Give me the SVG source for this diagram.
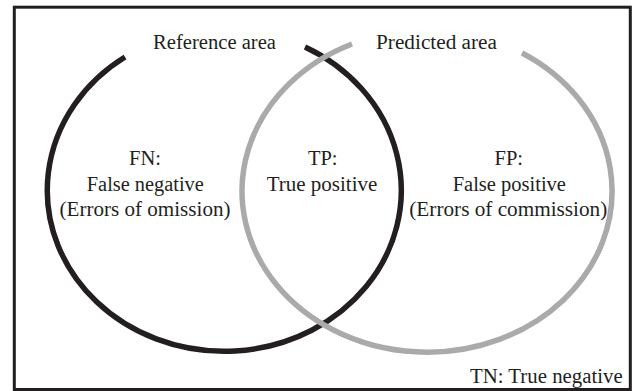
<svg xmlns="http://www.w3.org/2000/svg" width="633" height="391" viewBox="0 0 633 391">
<style>
.t{font-family:"Liberation Serif","Times New Roman",serif;font-size:20.5px;fill:#231f20;text-anchor:middle}
.ref{fill:none;stroke:#231f20;stroke-width:5.5}
.pred{fill:none;stroke:#aaaaaa;stroke-width:5.5}
</style>
<rect x="0" y="0" width="633" height="391" fill="#ffffff"/>
<g id="frame">
<rect x="14.3" y="7.2" width="616" height="382.3" fill="none" stroke="#231f20" stroke-width="3"/>
</g>
<g id="connectors">
<path id="reference-circle" class="ref" d="M125,57 A177,161 0 1,0 305,47"/>
<path id="predicted-circle" class="pred" d="M352,44 A185,161 0 1,0 522,53"/>
</g>
<g id="reference-label"><text class="t" x="214.5" y="49.3" textLength="123" lengthAdjust="spacingAndGlyphs">Reference area</text></g>
<g id="predicted-label"><text class="t" x="436.5" y="49.3" textLength="121" lengthAdjust="spacingAndGlyphs">Predicted area</text></g>
<g id="fn">
<text class="t" x="145" y="165">FN:</text>
<text class="t" x="145.3" y="190.7" textLength="117" lengthAdjust="spacingAndGlyphs">False negative</text>
<text class="t" x="145" y="215.8" textLength="171" lengthAdjust="spacingAndGlyphs">(Errors of omission)</text>
</g>
<g id="tp">
<text class="t" x="322.7" y="165">TP:</text>
<text class="t" x="322" y="190.7" textLength="110.6" lengthAdjust="spacingAndGlyphs">True positive</text>
</g>
<g id="fp">
<text class="t" x="508.8" y="165">FP:</text>
<text class="t" x="509.3" y="190.7" textLength="113.3" lengthAdjust="spacingAndGlyphs">False positive</text>
<text class="t" x="508.3" y="215.8" textLength="198" lengthAdjust="spacingAndGlyphs">(Errors of commission)</text>
</g>
<g id="tn"><text class="t" x="622.7" y="382.7" style="text-anchor:end" textLength="152.7" lengthAdjust="spacingAndGlyphs">TN: True negative</text></g>
</svg>
